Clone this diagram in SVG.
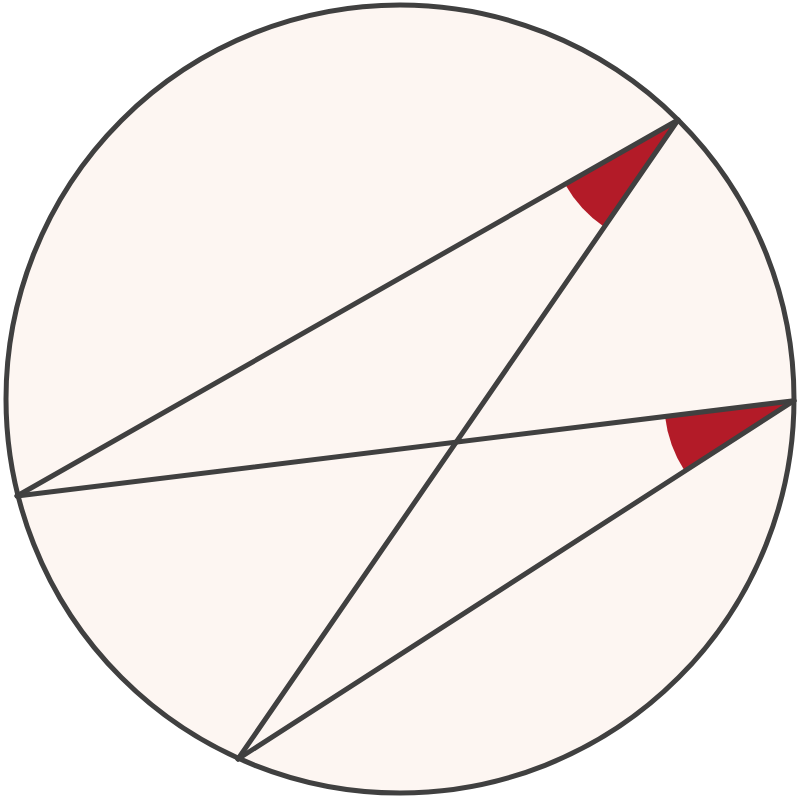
<svg xmlns="http://www.w3.org/2000/svg" width="800" height="798" viewBox="0 0 800 798">
<style>
.ln{stroke:#404040;stroke-width:5;fill:none;stroke-linecap:round}
.ang{fill:#b31b28;stroke:none}
</style>
<rect width="800" height="798" fill="#ffffff"/>
<g id="circle"><circle cx="400" cy="399" r="394" fill="#fdf6f2" stroke="#404040" stroke-width="5"/></g>
<g id="angles">
<path class="ang" d="M678,120 L565,184.3 A130,130 0 0 0 604.3,227.1 Z"/>
<path class="ang" d="M794,400.7 L665,416.5 A130,130 0 0 0 684.7,471.1 Z"/>
</g>
<g id="connectors">
<line class="ln" x1="678" y1="120" x2="17" y2="496"/>
<line class="ln" x1="678" y1="120" x2="238" y2="759"/>
<line class="ln" x1="794" y1="400.7" x2="17" y2="496"/>
<line class="ln" x1="794" y1="400.7" x2="238" y2="759"/>
</g>
</svg>
